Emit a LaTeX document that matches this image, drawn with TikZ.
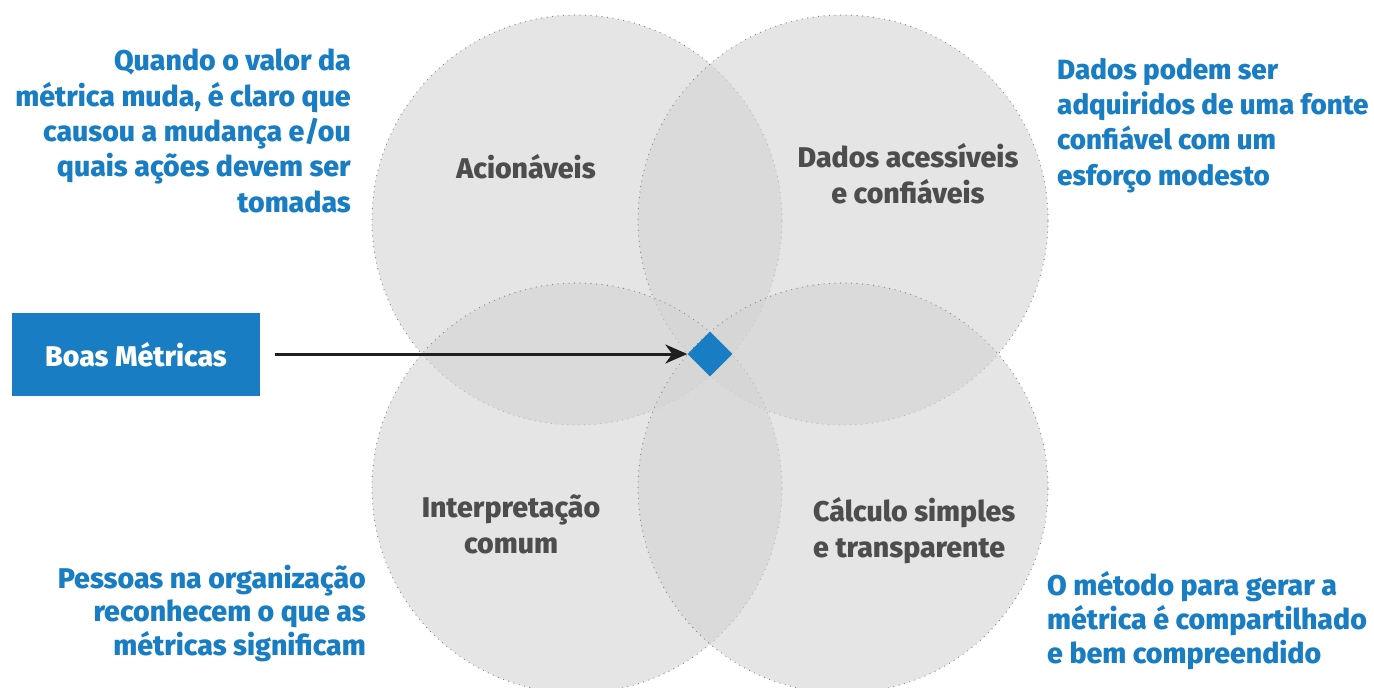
\documentclass[tikz,border=0pt]{standalone}
\usepackage{fontspec}
\setmainfont{Fira Sans}[BoldFont={Fira Sans ExtraBold}, FakeStretch=1.0]
\usetikzlibrary{shapes.geometric,arrows.meta}
\definecolor{mblue}{HTML}{187DC3}
\definecolor{mgray}{HTML}{4D4D4D}
\definecolor{mdot}{HTML}{7F7F7F}
\tikzset{
  venn/.style={circle, minimum size=410pt, inner sep=0pt, fill=black!17, fill opacity=0.6,
    draw=mdot, line width=1.2pt, dash pattern=on 0pt off 5.5pt, line cap=round},
  txt/.style={font=\bfseries\fontsize{28.5}{35.3}\selectfont, inner sep=0pt},
  bluetxt/.style={txt, text=mblue},
  graytxt/.style={txt, text=mgray},
}
\begin{document}
\begin{tikzpicture}[x=1pt,y=-1pt]
\useasboundingbox (0,0) rectangle (1374,688);
\fill[white] (0,0) rectangle (1374,688);
% circles
\node[venn] (tl) at (577,220) {};
\node[venn] (tr) at (843,220) {};
\node[venn] (bl) at (577,488) {};
\node[venn] (br) at (843,488) {};
% center diamond
\node[diamond, fill=mblue, minimum width=45pt, minimum height=45pt, inner sep=0pt] (dia) at (710,354) {};
% box
\node[rectangle, fill=mblue, minimum width=248pt, minimum height=83pt, inner sep=0pt,
      text=white, font=\bfseries\fontsize{28.5}{35}\selectfont] (box) at (136,354.5) {Boas Métricas};
\coordinate (start) at (275,354);
\draw[line width=3pt, color=black!88, -{Stealth[length=22pt,width=19pt,inset=7pt]}] (start) -- (dia.west);
% circle labels (anchor base = baseline of last line)
\node[graytxt, anchor=base] (l1) at (526,178) {Acionáveis};
\node[graytxt, anchor=base, align=center] (l2) at (908,203) {Dados acessíveis\\e confiáveis};
\node[graytxt, anchor=base, align=center] (l3) at (511,553) {Interpretação\\comum};
\node[graytxt, anchor=base west, align=left] (l4) at (813,557) {Cálculo simples\\e transparente};
% blue descriptions
\node[bluetxt, anchor=base east, align=right] (d1) at (351,212) {Quando o valor da\\métrica muda, é claro que\\causou a mudança e/ou\\quais ações devem ser\\tomadas};
\node[bluetxt, anchor=base west, align=left, font=\bfseries\fontsize{27.8}{35.3}\selectfont] (d2) at (1057,185) {Dados podem ser\\adquiridos de uma fonte\\confiável com um\\esforço modesto};
\node[bluetxt, anchor=base east, align=right, font=\bfseries\fontsize{28.5}{33.5}\selectfont] (d3) at (366,655) {Pessoas na organização\\reconhecem o que as\\métricas significam};
\node[bluetxt, anchor=base west, align=left, font=\bfseries\fontsize{28.5}{34}\selectfont] (d4) at (1047,663) {O método para gerar a\\métrica é compartilhado\\e bem compreendido};
\end{tikzpicture}
\end{document}
